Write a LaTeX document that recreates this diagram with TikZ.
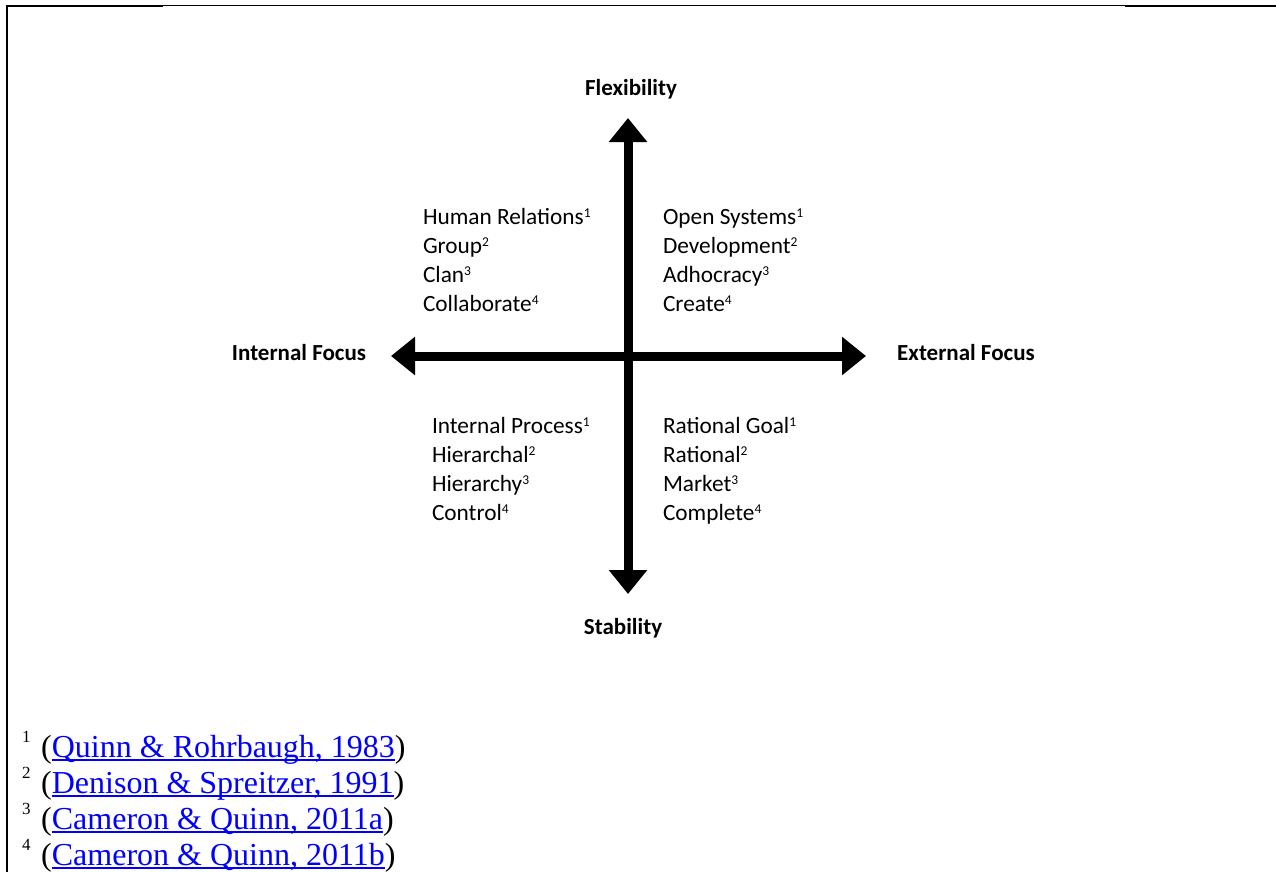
\documentclass[tikz,border=0pt]{standalone}
\usepackage{fontspec}
\setmainfont{Liberation Serif}
\newfontfamily\calibri{Carlito}
\usetikzlibrary{arrows.meta,positioning}

\definecolor{linkblue}{RGB}{0,0,255}
\newsavebox{\linkbox}
\newcommand{\fnlink}[1]{\sbox{\linkbox}{#1}\textcolor{linkblue}{\rlap{\rule[-3.5pt]{\wd\linkbox}{2pt}}#1}}
\newcommand{\qref}[1]{\raisebox{7pt}{\fontsize{13.5}{13.5}\selectfont #1}}

\tikzstyle{framethick} = [line width=2pt]
\tikzstyle{framethin} = [line width=1pt]
\tikzstyle{axis} = [line width=9pt, {Triangle[length=24pt,width=37pt]}-{Triangle[length=24pt,width=37pt]}]
\tikzstyle{pole} = [inner sep=0pt, anchor=base, font=\calibri\bfseries\fontsize{23}{28}\selectfont]
\tikzstyle{item} = [inner sep=0pt, text width=200pt, align=flush left, text height=17pt, text depth=6pt, font=\calibri\fontsize{23.3}{28}\selectfont]
\tikzstyle{note} = [inner sep=0pt, anchor=base west, font=\fontsize{32}{37}\selectfont]
\tikzstyle{noteno} = [inner sep=0pt, anchor=base west, font=\fontsize{17}{20}\selectfont]

\begin{document}
\begin{tikzpicture}[x=1pt, y=-1pt, node distance=29pt]
\useasboundingbox (0,0) rectangle (1276,872);

%frame
\draw [framethick] (7,6) -- (163,6);
\draw [framethin] (163,5.5) -- (1125,5.5);
\draw [framethick] (1125,6) -- (1276,6);
\draw [framethick] (7,5) -- (7,872);

%axes
\coordinate (centre) at (628,356);
\coordinate (flexTip) at (628,118);
\coordinate (stabTip) at (628,594);
\coordinate (intTip) at (391,356);
\coordinate (extTip) at (866,356);
\draw [axis] (intTip) -- (extTip);
\draw [axis] (stabTip) -- (flexTip);

%poles
\node (flex) [pole] at (631,96) {Flexibility};
\node (stab) [pole] at (623,634) {Stability};
\node (intf) [pole] at (299,360) {Internal Focus};
\node (extf) [pole] at (966,360) {External Focus};

%top left
\node (hr) [item] at (523,218.5) {Human Relations\qref{1}};
\node (grp) [item, below of=hr] {Group\qref{2}};
\node (clan) [item, below of=grp] {Clan\qref{3}};
\node (collab) [item, below of=clan] {Collaborate\qref{4}};

%top right
\node (os) [item] at (763,218.5) {Open Systems\qref{1}};
\node (dev) [item, below of=os] {Development\qref{2}};
\node (adhoc) [item, below of=dev] {Adhocracy\qref{3}};
\node (create) [item, below of=adhoc] {Create\qref{4}};

%bottom left
\node (ip) [item] at (532,427.5) {Internal Process\qref{1}};
\node (hierl) [item, below of=ip] {Hierarchal\qref{2}};
\node (hiery) [item, below of=hierl] {Hierarchy\qref{3}};
\node (ctrl) [item, below of=hiery] {Control\qref{4}};

%bottom right
\node (rg) [item] at (763,427.5) {Rational Goal\qref{1}};
\node (rat) [item, below of=rg] {Rational\qref{2}};
\node (market) [item, below of=rat] {Market\qref{3}};
\node (compl) [item, below of=market] {Complete\qref{4}};

%notes
\node (n1) [noteno] at (22,742) {1};
\node (f1) [note] at (41,757) {(\fnlink{Quinn \& Rohrbaugh, 1983})};
\node (n2) [noteno] at (22,778) {2};
\node (f2) [note] at (41,793) {(\fnlink{Denison \& Spreitzer, 1991})};
\node (n3) [noteno] at (22,814) {3};
\node (f3) [note] at (41,829) {(\fnlink{Cameron \& Quinn, 2011a})};
\node (n4) [noteno] at (22,850) {4};
\node (f4) [note] at (41,865) {(\fnlink{Cameron \& Quinn, 2011b})};

\end{tikzpicture}
\end{document}
